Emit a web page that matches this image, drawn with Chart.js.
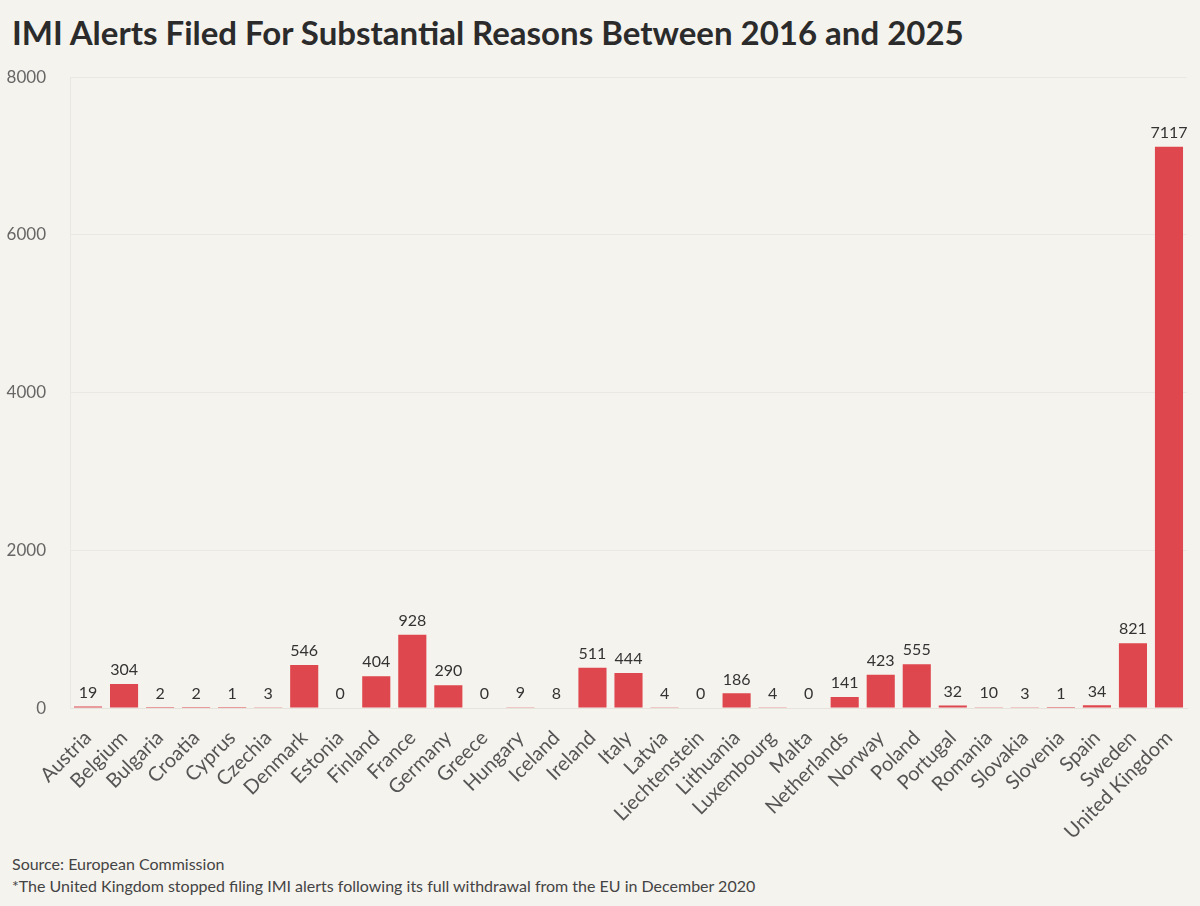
<!DOCTYPE html>
<html>
<head>
<meta charset="utf-8">
<script src="https://cdn.jsdelivr.net/npm/chart.js@4"></script>
<style>
  body { margin: 0; background: #f5f3ee; font-family: Lato, sans-serif; }
  #wrap { position: relative; width: 1200px; height: 906px; }
  h1 { position: absolute; left: 12px; top: 12px; margin: 0; font-size: 33px; font-weight: 700; color: #2b2b2b; }
  #box { position: absolute; left: 0; top: 43px; width: 1200px; height: 811px; }
  .note { position: absolute; left: 12px; font-size: 16px; color: #444; }
</style>
</head>
<body>
<div id="wrap">
  <h1>IMI Alerts Filed For Substantial Reasons Between 2016 and 2025</h1>
  <div id="box"><canvas id="chart1"></canvas></div>
  <div class="note" style="top:854px">Source: European Commission</div>
  <div class="note" style="top:876px">*The United Kingdom stopped filing IMI alerts following its full withdrawal from the EU in December 2020</div>
</div>
<script>
const countries = ['Austria', 'Belgium', 'Bulgaria', 'Croatia', 'Cyprus', 'Czechia', 'Denmark', 'Estonia',
  'Finland', 'France', 'Germany', 'Greece', 'Hungary', 'Iceland', 'Ireland', 'Italy', 'Latvia',
  'Liechtenstein', 'Lithuania', 'Luxembourg', 'Malta', 'Netherlands', 'Norway', 'Poland', 'Portugal',
  'Romania', 'Slovakia', 'Slovenia', 'Spain', 'Sweden', 'United Kingdom'];
const alerts = [19, 304, 2, 2, 1, 3, 546, 0, 404, 928, 290, 0, 9, 8, 511, 444, 4, 0, 186, 4, 0,
  141, 423, 555, 32, 10, 3, 1, 34, 821, 7117];
const yTicks = [0, 2000, 4000, 6000, 8000];

// numbers over the bars
const valueLabels = {
  id: 'valueLabels',
  afterDatasetsDraw(chart) {
    const ctx = chart.ctx;
    const meta = chart.getDatasetMeta(0);
    ctx.save();
    ctx.font = '16px Lato';
    ctx.fillStyle = '#333';
    ctx.textAlign = 'center';
    ctx.textBaseline = 'bottom';
    meta.data.forEach((bar, i) => {
      ctx.fillText(alerts[i], bar.x, bar.y - 6);
    });
    ctx.restore();
  }
};

const ctx = document.getElementById('chart1').getContext('2d');
const myChart = new Chart(ctx, {
  type: 'bar',
  data: {
    labels: countries,
    datasets: [{
      data: alerts,
      backgroundColor: '#de474d',
      barPercentage: 1,
      categoryPercentage: 0.78
    }]
  },
  options: {
    responsive: true,
    maintainAspectRatio: false,
    animation: false,
    layout: { padding: { top: 0, right: 13, left: 0 } },
    plugins: {
      legend: { display: false },
      tooltip: { enabled: false }
    },
    scales: {
      x: {
        grid: { display: false },
        border: { color: '#e6e3dc' },
        ticks: {
          color: '#555',
          padding: 10,
          font: { family: 'Lato', size: 20 },
          minRotation: 45,
          maxRotation: 45,
          autoSkip: false
        }
      },
      y: {
        min: 0,
        max: 8000,
        afterBuildTicks: (axis) => { axis.ticks = yTicks.map(v => ({ value: v })); },
        // fixed width so the rotated first label doesn't push the plot right
        afterFit: (axis) => { axis.width = 70; },
        grid: { color: '#ebe8e2', drawTicks: false },
        border: { color: '#ebe8e2' },
        ticks: {
          color: '#666',
          padding: 24,
          font: { family: 'Lato', size: 17 },
          callback: (v) => String(v)
        }
      }
    }
  },
  plugins: [valueLabels]
});
</script>
</body>
</html>
